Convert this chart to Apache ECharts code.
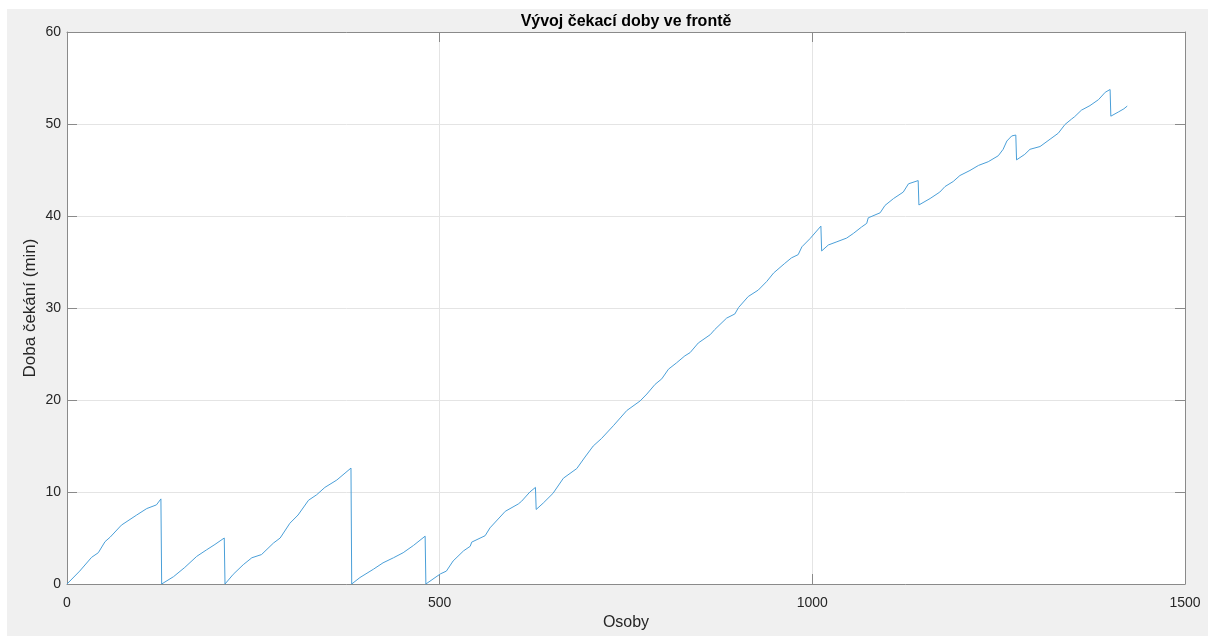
<!DOCTYPE html>
<html>
<head>
<meta charset="utf-8">
<script src="https://cdn.jsdelivr.net/npm/echarts@6/dist/echarts.min.js"></script>
<style>
  html, body { margin: 0; padding: 0; background: #ffffff; width: 1208px; height: 636px; overflow: hidden; }
  #chart { position: absolute; left: 7px; top: 9px; width: 1201px; height: 627px; background: #f0f0f0; }
</style>
</head>
<body>
<div id="chart"></div>
<script>
// Pořadí osoby ve frontě
const osoby = [
  0, 17, 33, 42, 51, 58, 73, 93.5, 107, 120, 126,
  127, 143, 158, 174, 187, 198.5, 211,
  212, 223, 236.5, 248, 261, 277, 286, 299, 310, 324, 335, 346, 362, 381,
  382, 393, 411, 424, 438, 451, 465, 480.5,
  481.5, 501, 509, 518, 532, 541, 543, 561, 567.5, 588, 605.5, 610, 621, 628.5,
  629.5, 639, 652, 666, 684, 695, 706, 717, 733, 751, 769, 778, 789, 798, 807, 818,
  829, 836, 847, 863, 869, 885, 896, 901, 914, 927.5, 939, 948, 963, 972, 981, 986,
  997, 1011.5,
  1012.5, 1021.5, 1033, 1046, 1055, 1066, 1073, 1075, 1091, 1097.5, 1109, 1122, 1129, 1142,
  1143, 1158, 1171, 1178, 1189, 1198, 1211.5, 1223, 1236, 1249.5, 1256, 1261, 1267.5, 1273,
  1274, 1285, 1292, 1305.5, 1319, 1330, 1339, 1348, 1352, 1361, 1372.5, 1384, 1393, 1399.5,
  1400.5, 1410.5, 1418, 1422.5
];

// Doba čekání dané osoby (min)
const cekani = [
  0, 1.4, 2.9, 3.4, 4.6, 5.1, 6.4, 7.5, 8.2, 8.6, 9.25,
  0, 0.8, 1.8, 3.0, 3.7, 4.3, 5.0,
  0, 1.05, 2.1, 2.85, 3.2, 4.45, 5.0, 6.6, 7.5, 9.1, 9.7, 10.5, 11.3, 12.6,
  0, 0.7, 1.6, 2.3, 2.85, 3.4, 4.2, 5.2,
  0, 1.1, 1.4, 2.5, 3.6, 4.1, 4.55, 5.25, 6.1, 7.9, 8.7, 9.0, 10.0, 10.5,
  8.1, 8.8, 9.85, 11.5, 12.55, 13.8, 15.0, 15.8, 17.2, 18.85, 19.9, 20.65, 21.7, 22.3, 23.35, 24.05,
  24.8, 25.15, 26.2, 27.1, 27.65, 28.9, 29.35, 30.05, 31.25, 31.95, 32.9, 33.8, 34.85, 35.45, 35.8, 36.65,
  37.55, 38.9,
  36.2, 36.85, 37.2, 37.6, 38.1, 38.8, 39.2, 39.8, 40.35, 41.15, 41.9, 42.6, 43.5, 43.85,
  41.2, 41.9, 42.6, 43.2, 43.75, 44.4, 44.95, 45.5, 45.9, 46.55, 47.25, 48.15, 48.7, 48.8,
  46.1, 46.7, 47.25, 47.55, 48.35, 49.0, 49.95, 50.55, 50.8, 51.5, 52.0, 52.65, 53.45, 53.75,
  50.85, 51.3, 51.65, 51.95
];

const xTicks = [0, 500, 1000, 1500];
const yTicks = [0, 10, 20, 30, 40, 50, 60];

const FONT = '"Liberation Sans", Arial, Helvetica, sans-serif';
const AXIS_COLOR = '#8a8a8a';
const TEXT_COLOR = '#262626';
const GRID_COLOR = '#e4e4e4';

const points = osoby.map((x, i) => [x, cekani[i]]);

const chart = echarts.init(document.getElementById('chart'), null, { renderer: 'canvas' });

function xAx(pos, labels) {
  return {
    type: 'value', position: pos, min: xTicks[0], max: xTicks[xTicks.length - 1], interval: 500,
    name: labels ? 'Osoby' : '', nameLocation: 'middle', nameGap: 31, nameMoveOverlap: false,
    nameTextStyle: { fontFamily: FONT, fontSize: 16, color: TEXT_COLOR },
    axisLine: { show: true, onZero: false, lineStyle: { color: AXIS_COLOR, width: 1 } },
    axisTick: { show: true, inside: true, length: 10, lineStyle: { color: AXIS_COLOR } },
    axisLabel: { show: labels, fontFamily: FONT, fontSize: 14, color: TEXT_COLOR, margin: 12,
                 formatter: v => String(v) },
    splitLine: { show: labels, lineStyle: { color: GRID_COLOR, width: 1 } }
  };
}
function yAx(pos, labels) {
  return {
    type: 'value', position: pos, min: yTicks[0], max: yTicks[yTicks.length - 1], interval: 10,
    name: labels ? 'Doba čekání (min)' : '', nameLocation: 'middle', nameGap: 28, nameMoveOverlap: false,
    nameTextStyle: { fontFamily: FONT, fontSize: 17, color: TEXT_COLOR },
    axisLine: { show: true, onZero: false, lineStyle: { color: AXIS_COLOR, width: 1 } },
    axisTick: { show: true, inside: true, length: 10, lineStyle: { color: AXIS_COLOR } },
    axisLabel: { show: labels, fontFamily: FONT, fontSize: 14, color: TEXT_COLOR, margin: 6,
                 formatter: v => String(v) },
    splitLine: { show: labels, lineStyle: { color: GRID_COLOR, width: 1 } }
  };
}

chart.setOption({
  animation: false,
  backgroundColor: '#f0f0f0',
  title: {
    text: 'Vývoj čekací doby ve frontě',
    left: 614, top: 0, textAlign: 'center',
    textStyle: { fontFamily: FONT, fontSize: 16, fontWeight: 'bold', color: '#000000' }
  },
  grid: { left: 60, top: 23, right: 23, bottom: 48, backgroundColor: '#ffffff', show: true, borderWidth: 0 },
  xAxis: [xAx('bottom', true), xAx('top', false)],
  yAxis: [yAx('left', true), yAx('right', false)],
  series: [{
    type: 'line',
    data: points,
    showSymbol: false,
    lineStyle: { color: '#4a9fd8', width: 1 },
    xAxisIndex: 0, yAxisIndex: 0
  }]
});
</script>
</body>
</html>
